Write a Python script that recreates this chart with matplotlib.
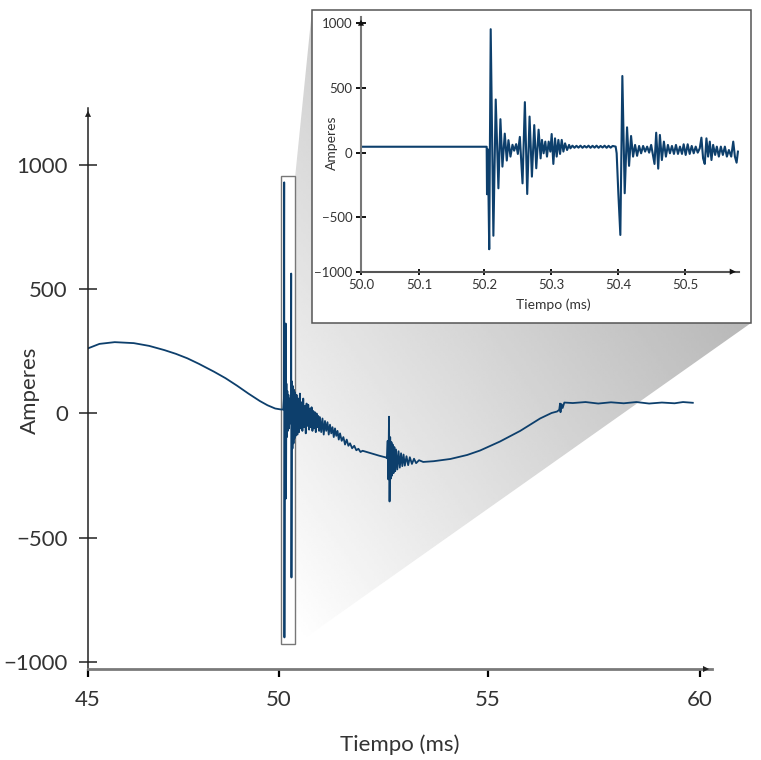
import numpy as np
import matplotlib
matplotlib.use("Agg")
import matplotlib.pyplot as plt
from matplotlib.patches import Rectangle, Polygon

# --- дані головного графіка (час, мс / струм, А) ---
main_t = [45.0, 45.3, 45.7, 46.2, 46.6, 47.0, 47.3, 47.6, 47.9, 48.3, 48.6, 48.9, 49.2, 49.5, 49.7, 49.9, 50.05,
          50.10, 50.115, 50.125, 50.130, 50.140, 50.150, 50.160, 50.168, 50.178, 50.188, 50.20, 50.212, 50.225,
          50.24, 50.255, 50.27, 50.285, 50.292, 50.298, 50.31, 50.322, 50.335, 50.348, 50.36, 50.372, 50.385,
          50.40, 50.42, 50.44, 50.46, 50.48, 50.50, 50.52, 50.54, 50.56, 50.58, 50.60, 50.62, 50.64, 50.66,
          50.68, 50.70, 50.72, 50.74, 50.76, 50.78, 50.80, 50.82, 50.84, 50.86, 50.88, 50.90, 50.92, 50.94,
          50.96, 50.98, 51.01, 51.04, 51.07, 51.10, 51.13, 51.16, 51.19, 51.22, 51.25, 51.28, 51.31, 51.34,
          51.37, 51.40, 51.43, 51.46, 51.50, 51.54, 51.58, 51.62, 51.66, 51.70, 51.75, 51.80, 51.85, 51.90,
          51.95, 52.00, 52.2, 52.4, 52.56,
          52.58, 52.60, 52.615, 52.632, 52.645, 52.66, 52.675, 52.69, 52.705, 52.72, 52.74, 52.76, 52.78,
          52.80, 52.83, 52.86, 52.89, 52.92, 52.95, 52.98, 53.01, 53.05, 53.09, 53.13, 53.18, 53.23, 53.28,
          53.35, 53.45, 53.7, 54.1, 54.5, 54.81, 55.28, 55.76, 56.23, 56.50, 56.63, 56.68, 56.70, 56.71,
          56.73, 56.76, 56.80, 57.0, 57.3, 57.6, 57.9, 58.2, 58.5, 58.8, 59.1, 59.4, 59.6, 59.83]
main_a = [262, 280, 287, 283, 272, 255, 240, 222, 200, 168, 142, 112, 80, 50, 33, 20, 16,
          16, 60, 930, -901, 110, -80, 362, -342, 120, -95, 90, -70, 75,
          -60, 60, -40, 40, 563, -660, 129, -141, 110, -120, 95, -100, 85,
          -90, 75, -85, 60, -75, 80, -60, 45, -70, 60, -55, 30, -80, 40,
          -50, 35, -65, 20, -55, 25, -70, 10, -60, 5, -75, 0, -55, -10,
          -70, -15, -75, -20, -85, -30, -70, -35, -85, -45, -80, -55, -95, -60,
          -90, -70, -105, -80, -110, -95, -125, -105, -130, -120, -140, -130, -148, -142,
          -155, -150, -160, -170, -177,
          -180, -110, -265, -13, -354, -95, -262, -115, -250, -125, -240, -135, -232,
          -145, -225, -152, -218, -160, -212, -165, -210, -172, -208, -176, -203, -182, -200,
          -188, -195, -192, -183, -167, -149, -113, -70, -20, 2, 8, 15, 40, 5,
          38, 22, 44, 42, 46, 40, 45, 41, 46, 40, 44, 41, 46, 43]

# --- дані збільшеної вставки (50.0 ... 50.58 мс) ---
inset_t = [50.000, 50.100, 50.2040, 50.2045, 50.2058, 50.2078, 50.2100, 50.2140, 50.2175, 50.2215, 50.2245,
           50.2275, 50.2310, 50.2340, 50.2365, 50.2395, 50.2425, 50.2450, 50.2480, 50.2505, 50.2535, 50.2575,
           50.2610, 50.2645, 50.2680, 50.2715, 50.2750, 50.2780, 50.2815, 50.2845, 50.2865, 50.2890, 50.2915,
           50.2940, 50.2965, 50.2990, 50.3010, 50.3035, 50.3060, 50.3085, 50.3110, 50.3135, 50.3160, 50.3185,
           50.3210, 50.3240, 50.3270, 50.3290,
           50.332, 50.335, 50.338, 50.341, 50.344, 50.347, 50.350, 50.353, 50.356, 50.359, 50.362, 50.365,
           50.368, 50.371, 50.374, 50.377, 50.380, 50.383, 50.386, 50.389, 50.392, 50.3965,
           50.3980, 50.4005, 50.4035, 50.4065, 50.4100, 50.4135, 50.4165, 50.4195, 50.4225, 50.4255, 50.4285,
           50.4315, 50.4345, 50.4375, 50.4405, 50.4435, 50.4465, 50.4495, 50.4525, 50.4545, 50.4570, 50.4600,
           50.4625, 50.4655, 50.4685, 50.4715, 50.4745, 50.4775, 50.4805, 50.4835, 50.4865, 50.4895, 50.4925,
           50.4955, 50.4980, 50.5010, 50.5040, 50.5070, 50.5100, 50.5130, 50.5160, 50.5190, 50.5220, 50.5245,
           50.5270, 50.5295, 50.5320, 50.5345, 50.5370, 50.5395, 50.5420, 50.5450, 50.5475, 50.5505, 50.5535,
           50.5565, 50.5595, 50.5625, 50.5655, 50.5690, 50.5720, 50.5745, 50.5770, 50.5790]
inset_a = [50, 50, 50, -323, 30, -796, 950, -673, 410, -276, 260,
           -105, 150, -57, 100, -26, 65, 20, 70, -5, 125, -237,
           390, -321, 280, -184, 215, -118, 180, -40, 102, 0, 89,
           -26, 89, 13, 147, -84, 114, -26, 102, -5, 102, 13,
           76, 25, 64, 38,
           58, 42, 57, 43, 58, 42, 56, 44, 58, 42, 57, 43,
           58, 42, 56, 44, 58, 42, 57, 43, 56, 51,
           0, -315, -666, 590, -315, 198, -99, 132, -26, 64, -20,
           56, 0, 56, 13, 51, 5, 64, -26, -84, 157, -121,
           140, -53, 89, -26, 64, 0, 56, -5, 64, -5, 51,
           -5, 69, -13, 69, -5, 56, 0, 51, 5, 38, 119,
           -40, -84, 114, -26, 89, -53, 64, -13, 51, -26, 51,
           -13, 51, -26, 25, -26, 89, -26, -74, 13]

main_xticks = [45, 50, 55, 60]
main_yticks = [-1000, -500, 0, 500, 1000]
inset_xticks = [50.0, 50.1, 50.2, 50.3, 50.4, 50.5]
inset_yticks = [-1000, -500, 0, 500, 1000]

# рамка збільшення на головному графіку
zoom_t = (50.048, 50.383)
zoom_a = (-926, 954)

W, H = 761, 760
LINE = '#0d3f6c'
TXT = '#333333'


def piecewise(vals, pix):
    # нерівномірна шкала осі, як на оригінальному рисунку
    vals = np.asarray(vals, float)
    pix = np.asarray(pix, float)

    def fwd(v):
        return np.interp(v, vals, pix)

    def inv(p):
        return np.interp(p, pix, vals)
    return fwd, inv


def axis_arrow(ax, xy, xytext, color):
    ax.annotate('', xy=xy, xytext=xytext, xycoords='axes fraction', textcoords='axes fraction',
                arrowprops=dict(arrowstyle='-|>', color=color, lw=0, mutation_scale=11),
                annotation_clip=False)


if __name__ == '__main__':
    plt.rcParams['font.family'] = ['Lato', 'DejaVu Sans']
    fig = plt.figure(figsize=(W / 100, H / 100), dpi=100)

    # фон: градієнт-"промінь" від рамки до вставки
    bg = fig.add_axes([0, 0, 1, 1], zorder=0)
    bg.set_xlim(0, W)
    bg.set_ylim(H, 0)
    bg.axis('off')
    poly = Polygon([(295, 178), (312, 10), (751, 10), (751, 323), (295, 645)],
                   closed=True, facecolor='none', edgecolor='none')
    bg.add_patch(poly)
    gx, gy = np.meshgrid(np.linspace(0, W, 300), np.linspace(0, H, 300))
    d = np.array([451.0, -317.0])
    tt = ((gx - 300) * d[0] + (gy - 640) * d[1]) / (d @ d)
    shade = 1 - np.clip(tt, 0, 1) * 0.28
    im = bg.imshow(shade, cmap='gray', vmin=0, vmax=1, extent=(0, W, H, 0), aspect='auto')
    im.set_clip_path(poly)
    bg.add_patch(Rectangle((312, 10), 439, 313, facecolor='white', edgecolor='#555555', lw=1.1, zorder=3))

    # головний графік
    fx, ix = piecewise([0, 45, 50, 55, 60, 100], [88 - 45 * 38.2, 88, 279, 488, 700, 700 + 40 * 42.4])
    x_right = float(fx(60.28))
    ax = fig.add_axes([88 / W, 91 / H, (x_right - 88) / W, 561 / H], zorder=1)
    ax.patch.set_alpha(0)
    ax.set_xscale('function', functions=(fx, ix))
    ax.set_xlim(45, 60.28)
    ax.set_ylim(-1028, 1229)
    ax.add_patch(Rectangle((zoom_t[0], zoom_a[0]), zoom_t[1] - zoom_t[0], zoom_a[1] - zoom_a[0],
                           facecolor='white', edgecolor='#777777', lw=1.0, zorder=1.5))
    ax.plot(main_t, main_a, color=LINE, lw=1.3, zorder=2)

    ax.spines['top'].set_visible(False)
    ax.spines['right'].set_visible(False)
    ax.spines['left'].set_color('#222222')
    ax.spines['left'].set_linewidth(1.1)
    ax.spines['bottom'].set_color('#7a7a7a')
    ax.spines['bottom'].set_linewidth(2)
    ax.set_xticks(main_xticks)
    ax.set_xticklabels([str(v) for v in main_xticks])
    ax.set_yticks(main_yticks)
    ax.set_yticklabels([str(v).replace('-', '\u2212') for v in main_yticks])
    ax.tick_params(axis='x', direction='out', length=6, width=1.6, color='black', pad=9,
                   labelsize=16, labelcolor=TXT)
    ax.tick_params(axis='y', direction='inout', length=13, width=1.1, color='#222222', pad=8,
                   labelsize=16, labelcolor=TXT)
    axis_arrow(ax, (0, 1.0), (0, 0.97), '#222222')
    axis_arrow(ax, (1.0, 0), (0.97, 0), '#222222')
    fig.text(400 / W, 1 - 745 / H, 'Tiempo (ms)', ha='center', va='center', fontsize=16, color=TXT)
    fig.text(30 / W, 1 - 390 / H, 'Amperes', ha='center', va='center', rotation=90, fontsize=16, color=TXT)

    # вставка зі збільшеним фрагментом
    gxi, gxinv = piecewise([49, 50.0, 50.1, 50.2, 50.3, 50.4, 50.5, 51.5],
                           [-219, 361, 419, 484, 551, 618, 685, 1355])
    gyi, gyinv = piecewise([-10000, -1000, -500, 0, 500, 1000, 10000],
                           [488.3 - 9000 * 0.11, 488.3, 543.3, 606.7, 672.3, 737.3, 737.3 + 9000 * 0.13])
    in_right = float(gxi(50.58))
    in_top = float(gyi(1045))
    axi = fig.add_axes([361 / W, 488.3 / H, (in_right - 361) / W, (in_top - 488.3) / H], zorder=2)
    axi.patch.set_alpha(0)
    axi.set_xscale('function', functions=(gxi, gxinv))
    axi.set_yscale('function', functions=(gyi, gyinv))
    axi.set_xlim(50.0, 50.58)
    axi.set_ylim(-1000, 1045)
    axi.plot(inset_t, inset_a, color=LINE, lw=1.5)
    axi.spines['top'].set_visible(False)
    axi.spines['right'].set_visible(False)
    axi.spines['left'].set_color('#777777')
    axi.spines['left'].set_linewidth(1.5)
    axi.spines['bottom'].set_color('#555555')
    axi.spines['bottom'].set_linewidth(1.5)
    axi.set_xticks(inset_xticks)
    axi.set_xticklabels(['%.1f' % v for v in inset_xticks])
    axi.set_yticks(inset_yticks)
    axi.set_yticklabels([str(v).replace('-', '\u2212') for v in inset_yticks])
    axi.tick_params(axis='x', direction='inout', length=5, width=1.3, color='black', pad=3,
                    labelsize=9.5, labelcolor=TXT)
    axi.tick_params(axis='y', direction='inout', length=6.5, width=1.3, color='black', pad=3,
                    labelsize=9.5, labelcolor=TXT)
    axis_arrow(axi, (0, 1.0), (0, 0.96), '#111111')
    axis_arrow(axi, (1.0, 0), (0.97, 0), '#111111')
    fig.text(553 / W, 1 - 305 / H, 'Tiempo (ms)', ha='center', va='center', fontsize=10, color=TXT)
    fig.text(332 / W, 1 - 143 / H, 'Amperes', ha='center', va='center', rotation=90, fontsize=10, color=TXT)

    fig.savefig('out.png', dpi=100)
